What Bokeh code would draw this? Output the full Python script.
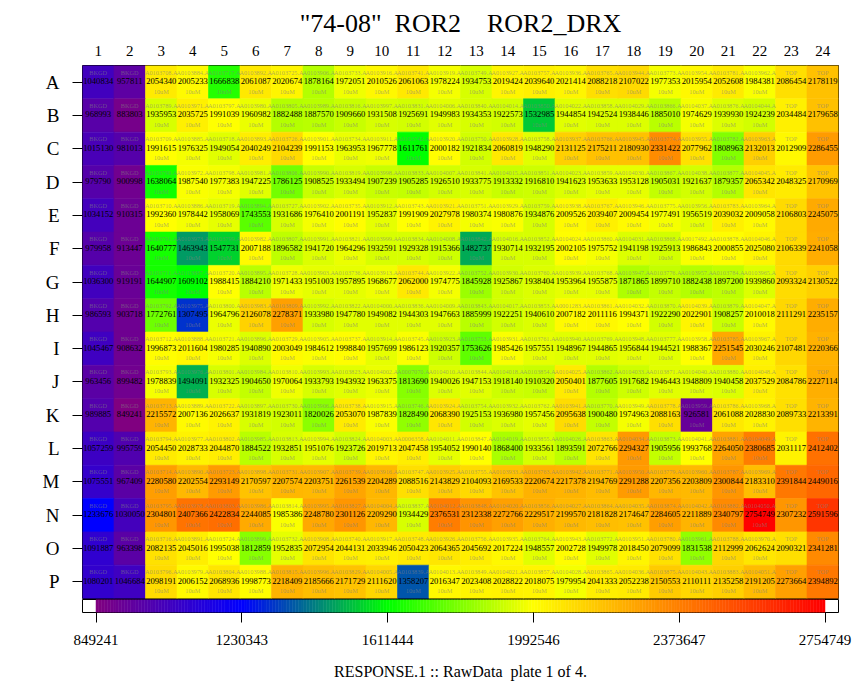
import numpy as np
from bokeh.plotting import figure
from bokeh.models import (ColumnDataSource, LinearColorMapper, Range1d, FixedTicker,
                          Title, NumeralTickFormatter)
from bokeh.layouts import column
from bokeh.transform import transform, dodge
from bokeh.core.properties import value
from bokeh.embed import file_html
from bokeh.resources import INLINE

SERIF = "Liberation Serif"

# ---- plate layout -------------------------------------------------------
rows = list("ABCDEFGHIJKLMNOP")
cols = list(range(1, 25))
dose_label = "10uM"

# raw response per well, one list per plate row (columns 1..24)
resp_A = [1040834, 957811, 2054340, 2005233, 1666838, 2061087, 2020674, 1878164, 1972051, 2010526, 2061063, 1978224, 1934753, 2019424, 2039640, 2021414, 2088218, 2107022, 1977353, 2015954, 2052608, 1984381, 2086454, 2178119]
resp_B = [968993, 883803, 1935953, 2035725, 1991039, 1960982, 1882488, 1887570, 1909660, 1931508, 1925691, 1949983, 1934353, 1922573, 1532985, 1944854, 1942524, 1938446, 1885010, 1974629, 1939930, 1924239, 2034484, 2179658]
resp_C = [1015130, 981013, 1991615, 1976325, 1949054, 2040249, 2104239, 1991153, 1963953, 1967778, 1611761, 2000182, 1921834, 2060819, 1948290, 2131125, 2175211, 2180930, 2331422, 2077962, 1808963, 2132013, 2012909, 2286455]
resp_D = [979790, 900998, 1638064, 1987540, 1977383, 1947225, 1786125, 1908525, 1933494, 1907239, 1905285, 1926510, 1933775, 1913332, 1916810, 1941623, 1953633, 1953128, 1905031, 1921637, 1879357, 2065342, 2048325, 2170969]
resp_E = [1034152, 910315, 1992360, 1978442, 1958069, 1743553, 1931686, 1976410, 2001191, 1952837, 1991909, 2027978, 1980374, 1980876, 1934876, 2009526, 2039407, 2009454, 1977491, 1956519, 2039032, 2009058, 2106803, 2245075]
resp_F = [979958, 913447, 1640777, 1463943, 1547731, 2007188, 1896582, 1941720, 1964296, 1932591, 1929328, 1915366, 1482737, 1930714, 1932195, 2002105, 1975752, 1941198, 1925913, 1986843, 2000855, 2025080, 2106339, 2241058]
resp_G = [1036300, 919191, 1644907, 1609102, 1988415, 1884210, 1971433, 1951003, 1957895, 1968677, 2062000, 1974775, 1845928, 1925867, 1938404, 1953964, 1955875, 1871865, 1899710, 1882438, 1897200, 1939860, 2093324, 2130522]
resp_H = [986593, 903718, 1772761, 1307495, 1964796, 2126078, 2278371, 1933980, 1947780, 1949082, 1944303, 1947663, 1885999, 1922251, 1940610, 2007182, 2011116, 1994371, 1922290, 2022901, 1908257, 2010018, 2111291, 2235157]
resp_I = [1045467, 908632, 1996873, 2011604, 1980285, 1940890, 2003049, 1984612, 1998840, 1957699, 1986123, 1920357, 1753626, 1985426, 1957551, 1948967, 1944865, 1956844, 1944521, 1988367, 2251545, 2030246, 2107481, 2220366]
resp_J = [963456, 899482, 1978839, 1494091, 1932325, 1904650, 1970064, 1933793, 1943932, 1963375, 1813690, 1940026, 1947153, 1918140, 1910320, 2050401, 1877605, 1917682, 1946443, 1948809, 1940458, 2037529, 2084786, 2227114]
resp_K = [989885, 849241, 2215572, 2007136, 2026637, 1931819, 1923011, 1820026, 2053070, 1987839, 1828490, 2068390, 1925153, 1936980, 1957456, 2095638, 1900480, 1974963, 2088163, 926581, 2061088, 2028830, 2089733, 2213391]
resp_L = [1057259, 995759, 2054450, 2028733, 2044870, 1884522, 1932851, 1951076, 1923726, 2019713, 2047458, 1954052, 1990140, 1868400, 1933561, 1893591, 2072766, 2294327, 1905956, 1993768, 2264050, 2380685, 2031117, 2412402]
resp_M = [1075551, 967409, 2280580, 2202554, 2293149, 2170597, 2207574, 2203751, 2261539, 2204289, 2088516, 2143829, 2104093, 2169533, 2220674, 2217378, 2194769, 2291288, 2207356, 2203809, 2300844, 2183310, 2391844, 2449016]
resp_N = [1233676, 1030050, 2304801, 2407366, 2422834, 2244085, 1985386, 2248780, 2301126, 2209290, 1934429, 2376531, 2312338, 2272766, 2229517, 2199570, 2181828, 2174647, 2284605, 2211889, 2340797, 2754749, 2307232, 2591596]
resp_O = [1091887, 963398, 2082135, 2045016, 1995038, 1812859, 1952835, 2072954, 2044131, 2033946, 2050423, 2064365, 2045692, 2017224, 1948557, 2002728, 1949978, 2018450, 2079099, 1831538, 2112999, 2062624, 2090321, 2341281]
resp_P = [1080201, 1046684, 2098191, 2006152, 2068936, 1998773, 2218409, 2185666, 2171729, 2111620, 1358207, 2016347, 2023408, 2028822, 2018075, 1979954, 2041333, 2052238, 2150553, 2110111, 2135258, 2191205, 2273664, 2394892]

# compound ids for the sample columns 3..22
id_A = ["0103708", "0103884", "0103717", "0103892", "0103725", "0103906", "0103733", "0103916", "0103741", "0103919", "0103749", "0103927", "0103757", "0103936", "0103765", "0103944", "0103773", "0103954", "0103781", "0103962"]
id_B = ["0103789", "0103971", "0103797", "0103980", "0103805", "0103989", "0103816", "0103997", "0103831", "0104006", "0103840", "0104014", "0103850", "0104022", "0103858", "0104029", "0103866", "0104037", "0103876", "0104044"]
id_C = ["0103709", "0103885", "0103718", "0103893", "0103726", "0103901", "0103734", "0103911", "0103742", "0103920", "0103750", "0103928", "0103758", "0103937", "0103766", "0103945", "0103774", "0103955", "0103782", "0103963"]
id_D = ["0103790", "0103972", "0103798", "0103981", "0103806", "0103990", "0103819", "0103998", "0103833", "0104007", "0103841", "0104015", "0103851", "0104023", "0103859", "0104030", "0103867", "0104038", "0103877", "0104045"]
id_E = ["0103710", "0103886", "0103719", "0103894", "0103727", "0103902", "0103735", "0103912", "0103743", "0103921", "0103751", "0103929", "0103759", "0103938", "0103767", "0103946", "0103775", "0103956", "0103783", "0103964"]
id_F = ["0103791", "0103973", "0103799", "0103982", "0103807", "0103991", "0103821", "0103999", "0103834", "0104008", "0103842", "0104016", "0103852", "0104024", "0103860", "0104031", "0103868", "0017492", "0103878", "0104046"]
id_G = ["0103711", "0103887", "0103720", "0103895", "0103728", "0103903", "0103736", "0103913", "0103744", "0103922", "0103752", "0103930", "0103760", "0103939", "0103768", "0103947", "0103776", "0103957", "0103784", "0103965"]
id_H = ["0103792", "0103975", "0103800", "0103983", "0103809", "0103992", "0103822", "0104000", "0103836", "0104009", "0103843", "0104017", "0103853", "0001283", "0103861", "0104032", "0103870", "0104039", "0103879", "0104047"]
id_I = ["0103712", "0103888", "0103721", "0103896", "0103729", "0103905", "0103737", "0103914", "0103745", "0103923", "0103753", "0103931", "0103761", "0103940", "0103769", "0103948", "0103777", "0103958", "0103785", "0103967"]
id_J = ["0103793", "0103976", "0103801", "0103984", "0103810", "0103993", "0103823", "0104002", "0007070", "0104010", "0103844", "0104018", "0103854", "0104025", "0103862", "0104033", "0103871", "0104040", "0103880", "0104048"]
id_K = ["0103713", "0103889", "0103722", "0103897", "0103730", "0103906", "0103738", "0103915", "0103746", "0103924", "0103754", "0103932", "0103762", "0103941", "0103770", "0103949", "0103778", "0103959", "0103786", "0103968"]
id_L = ["0103794", "0103977", "0103802", "0103985", "0103813", "0103994", "0103824", "0104003", "0006358", "0104011", "0103847", "0104019", "0103855", "0104026", "0103863", "0104034", "0103873", "0104041", "0103881", "0104049"]
id_M = ["0103714", "0103890", "0103723", "0103898", "0103731", "0103907", "0103739", "0103916", "0103747", "0103925", "0103755", "0103933", "0103763", "0103942", "0103771", "0103950", "0103779", "0103960", "0103787", "0103969"]
id_N = ["0103795", "0103978", "0103803", "0103986", "0103814", "0103995", "0103827", "0104004", "0103837", "0104012", "0103848", "0104020", "0103856", "0104027", "0103864", "0104035", "0103874", "0104042", "0103882", "0104050"]
id_O = ["0103716", "0103891", "0103724", "0103899", "0103732", "0103908", "0103740", "0103917", "0103748", "0103926", "0103756", "0103935", "0103764", "0103943", "0103772", "0103951", "0103780", "0103961", "0103788", "0103970"]
id_P = ["0103796", "0103979", "0103804", "0103988", "0103815", "0103996", "0103829", "0104005", "0103839", "0104013", "0103849", "0104021", "0103857", "0104028", "0103865", "0104036", "0103875", "0104043", "0103883", "0104051"]

# colour scale ticks
scale_ticks = [849241, 1230343, 1611444, 1992546, 2373647, 2754749]

plate = [resp_A, resp_B, resp_C, resp_D, resp_E, resp_F, resp_G, resp_H,
         resp_I, resp_J, resp_K, resp_L, resp_M, resp_N, resp_O, resp_P]
plate_ids = [id_A, id_B, id_C, id_D, id_E, id_F, id_G, id_H,
             id_I, id_J, id_K, id_L, id_M, id_N, id_O, id_P]

# ---- rainbow palette: purple -> blue -> green -> yellow -> orange -> red ----
stops = [0.0, 0.2, 0.4, 0.6, 0.8, 1.0]
stop_rgb = np.array([(128, 0, 128), (0, 0, 255), (0, 255, 0),
                     (255, 255, 0), (255, 128, 0), (255, 0, 0)], dtype=float)
t = np.linspace(0, 1, 256)
rgb = np.stack([np.interp(t, stops, stop_rgb[:, k]) for k in range(3)], axis=1)
palette = ["#%02x%02x%02x" % tuple(int(round(c)) for c in row) for row in rgb]

vmin = min(min(r) for r in plate)
vmax = max(max(r) for r in plate)
mapper = LinearColorMapper(palette=palette, low=vmin, high=vmax)

# ---- per-well table ----
well = dict(col=[], row=[], resp=[], resp_txt=[], cmpd=[], conc=[])
for r, (vals, ids) in enumerate(zip(plate, plate_ids), start=1):
    for c, v in enumerate(vals, start=1):
        well["col"].append(c)
        well["row"].append(r)
        well["resp"].append(v)
        well["resp_txt"].append(str(v))
        if c <= 2:
            well["cmpd"].append("BKGD")
            well["conc"].append("")
        elif c >= 23:
            well["cmpd"].append("TOP")
            well["conc"].append("")
        else:
            well["cmpd"].append("A%s.A" % ids[c - 3])
            well["conc"].append(dose_label)
src = ColumnDataSource(well)

# ---- plate heat map ----
p = figure(width=858, height=599, x_range=Range1d(0.5, 24.5), y_range=Range1d(16.5, 0.5),
           x_axis_location="above", output_backend="svg", toolbar_location=None,
           min_border_left=82, min_border_right=20, min_border_top=65, min_border_bottom=1)
p.rect(x="col", y="row", width=1, height=1, source=src,
       fill_color=transform("resp", mapper), line_color=transform("resp", mapper), line_width=0.6)

p.text(x="col", y=dodge("row", -0.30, range=p.y_range), text="cmpd", source=src,
       text_font=value(SERIF), text_font_size="6.3px", text_color="#808080", text_alpha=0.6,
       text_align="center", text_baseline="middle")
p.text(x="col", y=dodge("row", -0.03, range=p.y_range), text="resp_txt", source=src,
       text_font=value(SERIF), text_font_size="8.6px", text_color="black",
       text_align="center", text_baseline="middle")
p.text(x="col", y=dodge("row", 0.27, range=p.y_range), text="conc", source=src,
       text_font=value(SERIF), text_font_size="6.3px", text_color="#808080", text_alpha=0.6,
       text_align="center", text_baseline="middle")

p.xgrid.visible = False
p.ygrid.visible = False
p.outline_line_color = "black"
p.outline_line_width = 1
p.background_fill_color = "white"

xa = p.xaxis[0]
xa.ticker = FixedTicker(ticks=cols)
xa.axis_line_color = None
xa.major_tick_line_color = None
xa.minor_tick_line_color = None
xa.major_label_standoff = 4
xa.major_label_text_font = SERIF
xa.major_label_text_font_size = "15px"
xa.major_label_text_color = "black"

ya = p.yaxis[0]
ya.ticker = FixedTicker(ticks=list(range(1, 17)))
ya.major_label_overrides = {i + 1: name for i, name in enumerate(rows)}
ya.axis_line_color = None
ya.major_tick_in = 0
ya.major_tick_out = 10
ya.major_tick_line_color = "black"
ya.minor_tick_line_color = None
ya.major_label_standoff = 13
ya.major_label_text_font = SERIF
ya.major_label_text_font_size = "19px"
ya.major_label_text_color = "black"

p.title.text = "\"74-08\"\u00a0\u00a0ROR2\u00a0\u00a0\u00a0\u00a0ROR2_DRX"
p.title.align = "center"
p.title.text_font = SERIF
p.title.text_font_size = "26px"
p.title.text_font_style = "normal"
p.title.text_color = "black"
p.title.standoff = 9

# ---- colour scale strip ----
margin = (vmax - vmin) * 13.5 / 729.0
q = figure(width=858, height=93, x_range=Range1d(vmin - margin, vmax + margin),
           y_range=Range1d(0, 1), y_axis_location=None, output_backend="svg",
           toolbar_location=None, min_border_left=82, min_border_right=20,
           min_border_top=0, min_border_bottom=76)
edges = np.linspace(vmin, vmax, len(palette) + 1)
q.quad(left=edges[:-1], right=edges[1:], bottom=0, top=1, fill_color=palette,
       line_color=palette, line_width=0.5)
q.xgrid.visible = False
q.ygrid.visible = False
q.outline_line_color = "black"

qa = q.xaxis[0]
qa.ticker = FixedTicker(ticks=scale_ticks)
qa.formatter = NumeralTickFormatter(format="0")
qa.axis_line_color = None
qa.major_tick_in = 0
qa.major_tick_out = 10
qa.major_tick_line_color = "black"
qa.minor_tick_line_color = None
qa.major_label_standoff = 12
qa.major_label_text_font = SERIF
qa.major_label_text_font_size = "15px"
qa.major_label_text_color = "black"

q.add_layout(Title(text="RESPONSE.1\u00a0::\u00a0RawData\u00a0\u00a0plate\u00a01\u00a0of\u00a04.",
                   align="center", text_font=SERIF, text_font_size="16px",
                   text_font_style="normal", text_color="black", standoff=26), "below")

layout = column(p, q, spacing=0)
open("out.html", "w").write(file_html(layout, INLINE))
